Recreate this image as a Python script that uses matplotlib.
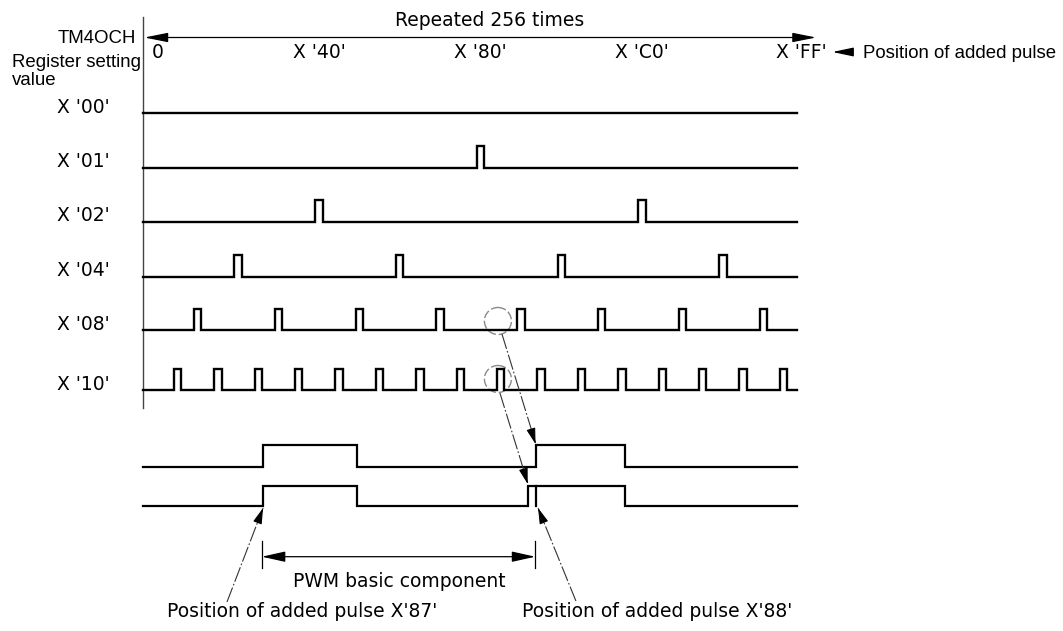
import matplotlib.pyplot as plt
from matplotlib.patches import Ellipse

plt.rcParams['font.family'] = ['DejaVu Sans']

# register setting values and the counts (0..0xFF) where a pulse gets added
reg_labels = ["X '00'", "X '01'", "X '02'", "X '04'", "X '08'", "X '10'"]
pulses_00 = []
pulses_01 = [0x80]
pulses_02 = [0x40, 0xC0]
pulses_04 = [0x20, 0x60, 0xA0, 0xE0]
pulses_08 = [0x10, 0x30, 0x50, 0x70, 0x90, 0xB0, 0xD0, 0xF0]
pulses_10 = [0x08, 0x18, 0x28, 0x38, 0x48, 0x58, 0x68, 0x78,
             0x88, 0x98, 0xA8, 0xB8, 0xC8, 0xD8, 0xE8, 0xF8]
pulse_width = 3

tick_pos = [0, 0x40, 0x80, 0xC0, 0xFF]
tick_labels = ["0", "X '40'", "X '80'", "X 'C0'", "X 'FF'"]

# enlarged view of the PWM basic component (edges, same count scale)
basic_edges = [43.4, 80.6, 151.5, 186.7]
added_edges = [43.4, 80.6, 148.3, 186.7]
added_split = 151.5

# layout (pixels)
PX0, PXU = 153.5, 2.525
row_y = [113.3, 167.7, 221.7, 276.7, 330, 390]
pulse_h = 21.5
X_START, X_END = -4, 255
FS = 13.5


def px(x):
    return (x - PX0) / PXU


def wave(edges, base, h):
    xs, ys = [X_START], [base]
    lvl = base
    for e in edges:
        new = base - h if lvl == base else base
        xs += [e, e]
        ys += [lvl, new]
        lvl = new
    xs.append(X_END)
    ys.append(lvl)
    return xs, ys


def head(ax, tip, frm):
    ax.annotate("", xy=tip, xytext=frm,
                arrowprops=dict(arrowstyle='-|>,head_length=0.6,head_width=0.17',
                                mutation_scale=16, color='black', lw=0.8,
                                shrinkA=0, shrinkB=0))


fig = plt.figure(figsize=(10.63, 6.31), dpi=100)
ax = fig.add_axes([0, 0, 1, 1])
ax.set_xlim(px(0), px(1063))
ax.set_ylim(631, 0)
ax.axis('off')

# vertical reference line
ax.plot([X_START, X_START], [17, 408], color='#444444', lw=1.0)

# top "repeated" arrow
ax.annotate("", xy=(262.4, 37.5), xytext=(-3.6, 37.5),
            arrowprops=dict(arrowstyle='<|-|>,head_length=0.9,head_width=0.18',
                            mutation_scale=16, color='black', lw=0.9,
                            shrinkA=0, shrinkB=0))
ax.text(133.3, 26.5, "Repeated 256 times", ha='center', va='baseline', fontsize=FS)

for p, lab in zip(tick_pos, tick_labels):
    ax.text(p + 1.5, 58.3, lab, ha='center', va='baseline', fontsize=FS)

ax.annotate("", xy=(268.9, 52), xytext=(276.8, 52),
            arrowprops=dict(arrowstyle='-|>,head_length=0.8,head_width=0.17',
                            mutation_scale=16, color='black', lw=0.9,
                            shrinkA=0, shrinkB=0))
ax.text(px(863), 58.5, "Position of added pulse", ha='left', va='baseline',
        fontsize=13.4, family='Liberation Sans')

ax.text(px(136), 43.3, "TM4OCH", ha='right', va='baseline', fontsize=13.4,
        family='Liberation Sans')
ax.text(px(12), 66.7, "Register setting", ha='left', va='baseline', fontsize=13.4,
        family='Liberation Sans')
ax.text(px(12), 85, "value", ha='left', va='baseline', fontsize=13.4,
        family='Liberation Sans')

rows = [pulses_00, pulses_01, pulses_02, pulses_04, pulses_08, pulses_10]
for y, lab, pos in zip(row_y, reg_labels, rows):
    edges = []
    for p in pos:
        edges += [p, p + pulse_width]
    xs, ys = wave(edges, y, pulse_h)
    ax.plot(xs, ys, color='black', lw=1.7, solid_joinstyle='miter')
    ax.text(px(110), y - 0.5, lab, ha='right', va='baseline', fontsize=FS)

# circles marking X'88'
for cy in [321, 379]:
    ax.add_patch(Ellipse((136.4, cy), 27 / PXU, 27, fill=False,
                         ec='#8a8a8a', lw=1.0, ls=(0, (6, 2))))

# enlarged waveforms
xs, ys = wave(basic_edges, 466.7, 21.7)
ax.plot(xs, ys, color='black', lw=1.6, solid_joinstyle='miter')
xs, ys = wave(added_edges, 506, 20.5)
ax.plot(xs, ys, color='black', lw=1.6, solid_joinstyle='miter')
ax.plot([added_split, added_split], [506, 485.5], color='black', lw=1.6)

leader = dict(color='#333333', lw=0.8, ls=(0, (14, 2, 1.5, 2)))
# from circles to the enlarged waveforms
ax.plot([138.0, 151.3], [334, 443], **leader)
head(ax, (151.3, 444), (149.6, 430))
ax.plot([137.2, 148.2], [393, 483], **leader)
head(ax, (148.2, 484), (146.6, 470))

# PWM basic component dimension
ax.plot([42.9, 42.9], [541, 568], color='black', lw=0.9)
ax.plot([151.2, 151.2], [541, 568], color='black', lw=0.9)
ax.annotate("", xy=(151.2, 556.7), xytext=(42.9, 556.7),
            arrowprops=dict(arrowstyle='<|-|>,head_length=0.9,head_width=0.2',
                            mutation_scale=16, color='black', lw=0.9,
                            shrinkA=0, shrinkB=0))
ax.text(97.3, 586.7, "PWM basic component", ha='center', va='baseline', fontsize=FS)

# added pulse callouts
ax.plot([29.1, 43.4], [602, 508], **leader)
head(ax, (43.4, 508), (41.3, 522))
ax.text(59.0, 617, "Position of added pulse X'87'", ha='center', va='baseline',
        fontsize=FS)
ax.plot([167.3, 152.3], [601, 508], **leader)
head(ax, (152.3, 508), (154.5, 522))
ax.text(199.4, 617, "Position of added pulse X'88'", ha='center', va='baseline',
        fontsize=FS)

fig.savefig("out.png", dpi=100)
